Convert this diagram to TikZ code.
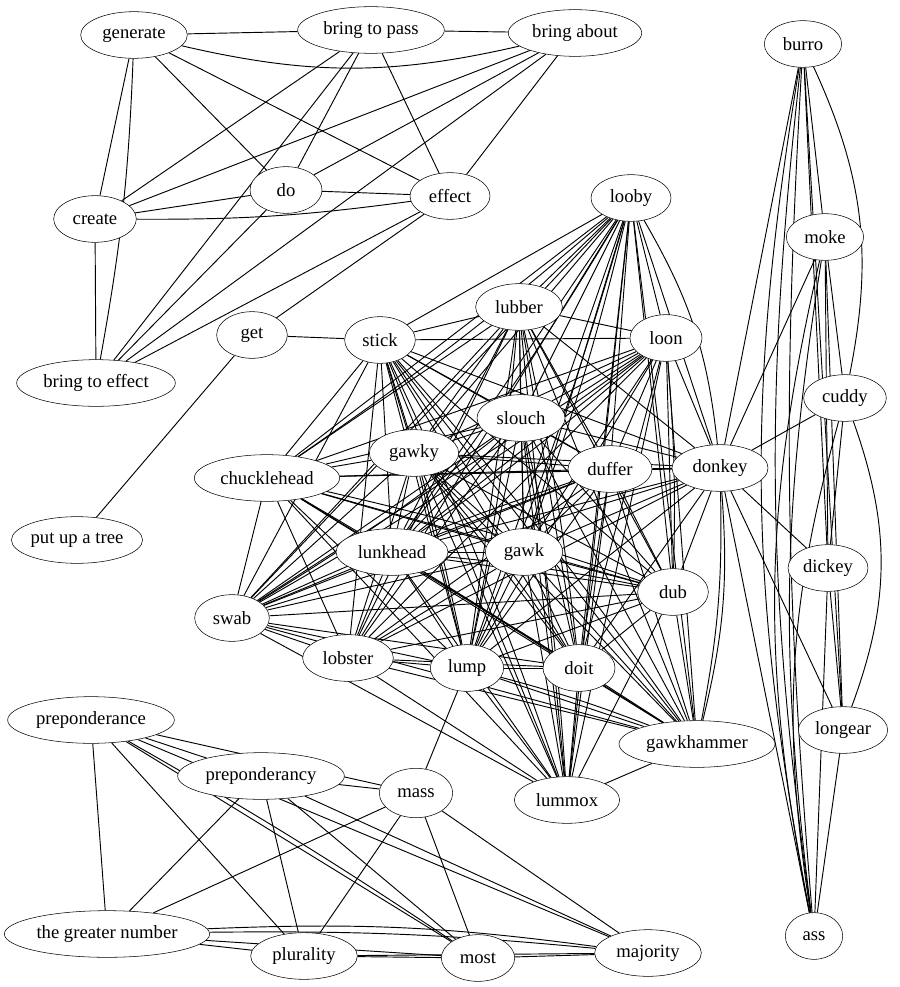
\documentclass[tikz,border=0pt]{standalone}
\usepackage{fontspec}
\setmainfont{Liberation Serif}
\usetikzlibrary{shapes.geometric,backgrounds}
\begin{document}
\begin{tikzpicture}[
    x=0.75pt, y=-0.75pt,
    ell/.style={draw,fill=white,ellipse,inner sep=0pt,minimum height=35pt,minimum width=#1,font=\fontsize{14}{16}\selectfont},
    edge/.style={line width=0.7pt}
]
\useasboundingbox (0,0) rectangle (899,987);
% cause group
\node[ell=80pt] (generate) at (134,35) {generate};
\node[ell=110pt] (btp) at (371,30) {bring to pass};
\node[ell=100pt] (bab) at (575,33) {bring about};
\node[ell=62pt] (create) at (95,219) {create};
\node[ell=54pt] (do) at (286,190) {do};
\node[ell=60pt] (effect) at (450,196) {effect};
\node[ell=119pt] (bte) at (96,383) {bring to effect};
\node[ell=53pt] (get) at (252,335) {get};
\node[ell=90pt] (tree) at (77,540) {put up a tree};
% fool group
\node[ell=60pt] (looby) at (631,198) {looby};
\node[ell=65pt] (lubber) at (519,307) {lubber};
\node[ell=54pt] (loon) at (666,338) {loon};
\node[ell=53pt] (stick) at (380,340) {stick};
\node[ell=66pt] (slouch) at (521,418) {slouch};
\node[ell=67pt] (gawky) at (414,453) {gawky};
\node[ell=109pt] (chuckle) at (267,478) {chucklehead};
\node[ell=63pt] (duffer) at (610,469) {duffer};
\node[ell=72pt] (donkey) at (720,468) {donkey};
\node[ell=84pt] (lunkhead) at (392,552) {lunkhead};
\node[ell=58pt] (gawk) at (524,552) {gawk};
\node[ell=56pt] (swab) at (232,618) {swab};
\node[ell=68pt] (lobster) at (348,658) {lobster};
\node[ell=55pt] (lump) at (467,668) {lump};
\node[ell=54pt] (doit) at (579,668) {doit};
\node[ell=53pt] (dub) at (673,592) {dub};
\node[ell=117pt] (gawkham) at (697,744) {gawkhammer};
\node[ell=79pt] (lummox) at (567,800) {lummox};
% ass group
\node[ell=58pt] (burro) at (803,44) {burro};
\node[ell=58pt] (moke) at (825,237) {moke};
\node[ell=62pt] (cuddy) at (845,398) {cuddy};
\node[ell=60pt] (dickey) at (828,568) {dickey};
\node[ell=67pt] (longear) at (843,730) {longear};
\node[ell=43pt] (ass) at (814,936) {ass};
% majority group
\node[ell=125pt] (prepce) at (91,720) {preponderance};
\node[ell=125pt] (prepcy) at (261,776) {preponderancy};
\node[ell=55pt,minimum height=37pt] (mass) at (416,793) {mass};
\node[ell=154pt] (tgn) at (107,934) {the greater number};
\node[ell=80pt] (plural) at (304,956) {plurality};
\node[ell=55pt] (most) at (478,958) {most};
\node[ell=80pt] (major) at (648,953) {majority};

\begin{pgfonlayer}{background}
\draw[edge] (generate) -- (btp);
\draw[edge] (btp) -- (bab);
\draw[edge] (generate) to[bend right=13] (bab);
\foreach \a/\b in {generate/create, generate/do, generate/effect, btp/create, btp/bte,
    btp/do, btp/effect, bab/create, bab/do, bab/bte, bab/effect, create/do, create/bte,
    do/effect, do/bte, effect/bte, effect/get, get/stick, get/tree}
  \draw[edge] (\a) -- (\b);
\draw[edge] (generate) to[bend left=4] (bte);
\draw[edge] (create) to[bend right=4] (effect);

% fool group, nearly all pairs
\foreach \a [count=\i] in {looby,lubber,loon,stick,slouch,gawky,duffer,chuckle,lunkhead,gawk,dub,swab,lobster,lump,doit,gawkham,lummox}
  \foreach \b [count=\j] in {looby,lubber,loon,stick,slouch,gawky,duffer,chuckle,lunkhead,gawk,dub,swab,lobster,lump,doit,gawkham,lummox}
    {\ifnum\j>\i \draw[edge] (\a) -- (\b); \fi}
\foreach \b in {looby,lubber,loon,stick,slouch,gawky,duffer,chuckle,lunkhead,gawk,dub,swab,lobster,lump,doit}
  \draw[edge] (donkey) -- (\b);
\foreach \a/\b in {looby/chuckle, looby/lump, looby/lunkhead, looby/gawk, lubber/lump, lubber/doit,
    stick/lummox, stick/gawkham, loon/dub, loon/swab, loon/lunkhead, slouch/lummox, lump/gawkham,
    swab/duffer, stick/lump, gawky/doit, chuckle/dub, lunkhead/dub, slouch/swab}
  \draw[edge] (\a) to[bend left=3] (\b);
\draw[edge] (donkey) to[bend left=6] (gawkham);
\draw[edge] (donkey) to[bend left=9] (gawkham);
\draw[edge] (looby) to[bend left=12] (donkey);
\draw[edge] (lump) -- (mass);

% ass group
\foreach \a/\b in {burro/moke, burro/donkey, burro/dickey, burro/longear, moke/cuddy, moke/donkey,
    moke/dickey, moke/longear, cuddy/donkey, cuddy/dickey, dickey/donkey, dickey/longear,
    dickey/ass, longear/donkey, longear/ass, ass/donkey}
  \draw[edge] (\a) -- (\b);
\draw[edge] (burro) to[bend left=18] (cuddy);
\draw[edge] (burro) to[bend right=4] (ass);
\draw[edge] (burro) to[bend right=7] (ass);
\draw[edge] (burro) to[bend right=10] (ass);
\draw[edge] (moke) to[bend right=8] (ass);
\draw[edge] (moke) to[bend right=12] (ass);
\draw[edge] (cuddy) to[bend left=20] (longear);
\draw[edge] (cuddy) to[bend right=12] (ass);

% majority group
\foreach \a/\b in {prepce/prepcy, prepce/mass, prepce/tgn, prepce/plural, prepce/most, prepce/major,
    prepcy/mass, prepcy/tgn, prepcy/plural, prepcy/most, prepcy/major, mass/tgn, mass/plural,
    mass/most, mass/major, tgn/plural, tgn/most, plural/most, plural/major, most/major}
  \draw[edge] (\a) -- (\b);
\draw[edge] (prepce) to[bend left=2] (most);
\draw[edge] (tgn) to[bend left=3] (major);
\draw[edge] (tgn) to[bend left=5] (major);
\end{pgfonlayer}
\end{tikzpicture}
\end{document}
